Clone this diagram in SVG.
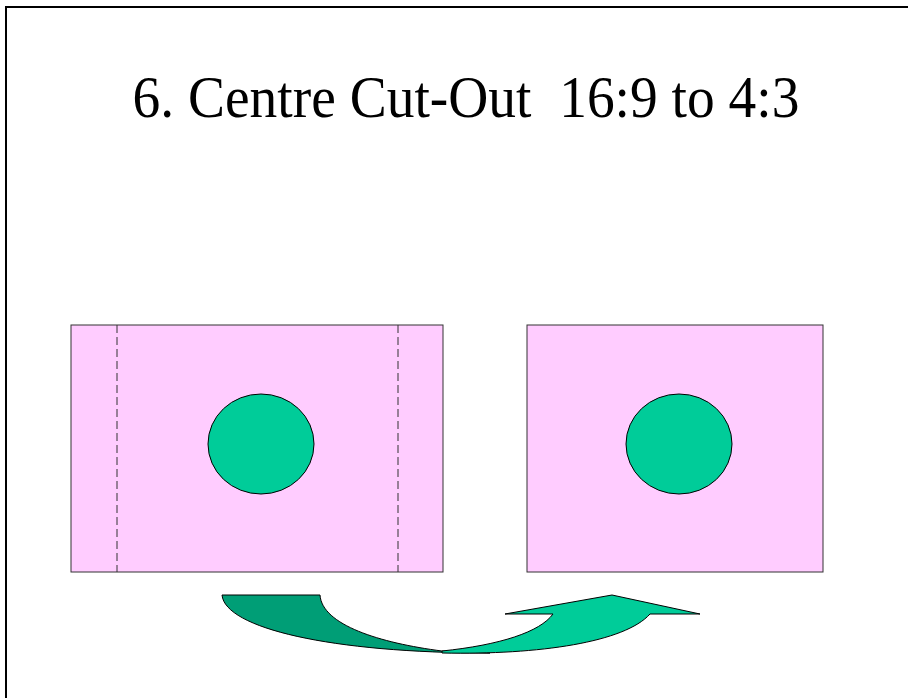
<svg xmlns="http://www.w3.org/2000/svg" width="908" height="698" viewBox="0 0 908 698">
<style>
.frame{fill:none;stroke:#000;stroke-width:2}
.screen{fill:#FFCCFF;stroke:#333;stroke-width:1}
.cut{stroke:#333;stroke-width:1;stroke-dasharray:8,4}
.ball{fill:#00CC99;stroke:#000;stroke-width:1}
</style>
<rect width="908" height="698" fill="#fff"/>
<path class="frame" d="M6,698 V7 H910"/>
<text transform="translate(466,117) scale(0.94,1)" x="0" y="0" text-anchor="middle" font-family="'Liberation Serif', 'Times New Roman', serif" font-size="59" fill="#000" xml:space="preserve">6. Centre Cut-Out  16:9 to 4:3</text>
<g id="wide">
<rect class="screen" x="71" y="325" width="372" height="247"/>
<line class="cut" x1="117" y1="325" x2="117" y2="572"/>
<line class="cut" x1="398" y1="325" x2="398" y2="572"/>
<ellipse class="ball" cx="261" cy="444" rx="53" ry="50"/>
</g>
<g id="narrow">
<rect class="screen" x="527" y="325" width="296" height="247"/>
<ellipse class="ball" cx="679" cy="444" rx="53" ry="50"/>
</g>
<g id="connectors">
<path d="M222,595 H320 C322,625 380,643 442,651 L490,653 C330,653 225,628 222,595 Z" fill="#009E76" stroke="#000" stroke-width="1"/>
<path d="M442,651 C500,645 540,632 553,614 H505 L612,595 L700,614 H650 C625,642 540,655 442,653 Z" fill="#00CC99" stroke="#000" stroke-width="1"/>
</g>
</svg>
